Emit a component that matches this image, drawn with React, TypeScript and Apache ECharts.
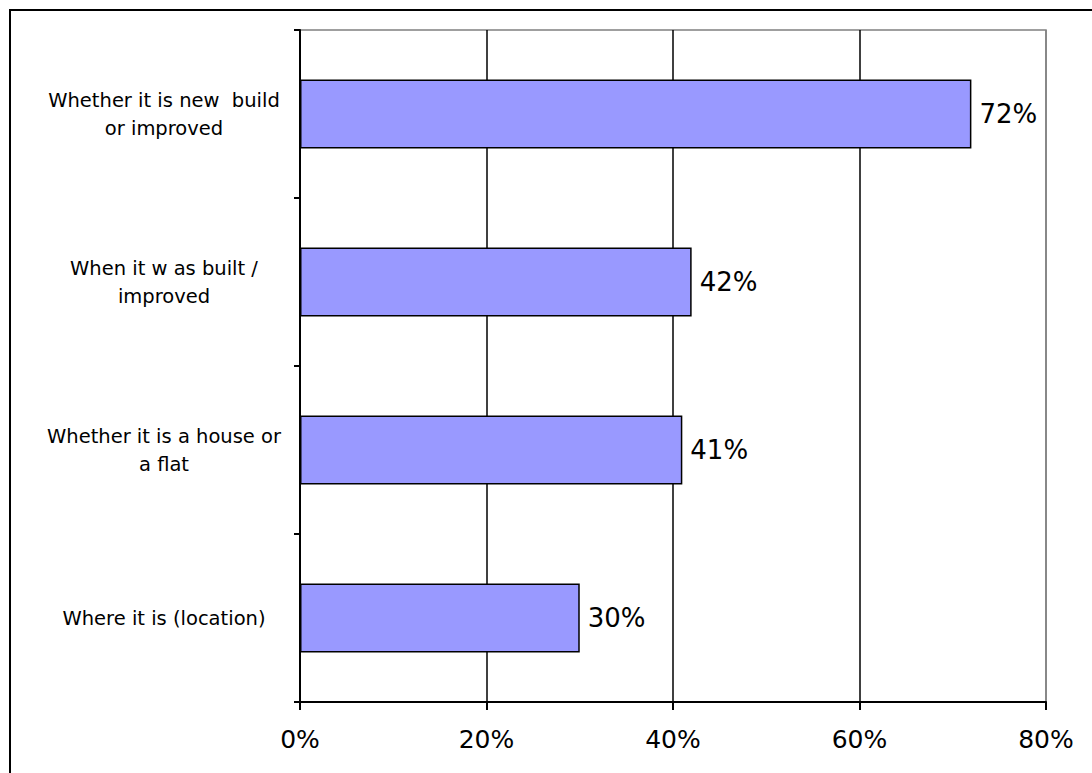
import React, { useEffect, useRef } from "react";
import * as echarts from "echarts";

const categories = [
  "Whether it is new  build\nor improved",
  "When it w as built /\nimproved",
  "Whether it is a house or\na flat",
  "Where it is (location)",
];
const values = [72, 42, 41, 30];
const xTicks = [0, 20, 40, 60, 80];

const FONT = "DejaVu Sans, Liberation Sans, Arial, sans-serif";

export default function App() {
  const ref = useRef<HTMLDivElement>(null);
  useEffect(() => {
    const chart = echarts.init(ref.current!, null, { renderer: "svg" });
    chart.setOption({
      animation: false,
      textStyle: { fontFamily: FONT },
      graphic: [
        {
          type: "rect",
          shape: { x: 10, y: 10, width: 1200, height: 900 },
          style: { fill: "none", stroke: "#000", lineWidth: 2 },
          silent: true,
        },
      ],
      grid: {
        left: 300,
        right: 46,
        top: 30,
        bottom: 71,
        show: true,
        borderColor: "#808080",
        borderWidth: 1.5,
        containLabel: false,
      },
      xAxis: {
        type: "value",
        min: xTicks[0],
        max: xTicks[xTicks.length - 1],
        interval: 20,
        axisLine: { show: true, lineStyle: { color: "#000", width: 2 } },
        axisTick: { show: true, length: 8, lineStyle: { color: "#000", width: 2 } },
        axisLabel: {
          formatter: (v: number) => v + "%",
          fontSize: 25,
          color: "#000",
          margin: 25,
          fontFamily: FONT,
        },
        splitLine: {
          show: true,
          lineStyle: { color: ["#000", "#000", "#000", "#000", "#808080"], width: 1.5 },
        },
      },
      yAxis: {
        type: "category",
        data: categories,
        inverse: true,
        axisLine: { show: true, lineStyle: { color: "#000", width: 2 } },
        axisTick: { show: true, length: 6, inside: false, lineStyle: { color: "#000", width: 2 } },
        axisLabel: {
          fontSize: 19.5,
          lineHeight: 28,
          color: "#000",
          align: "center",
          margin: 136,
          fontFamily: FONT,
        },
        splitLine: { show: false },
      },
      series: [
        {
          type: "bar",
          data: values,
          barCategoryGap: "59%",
          itemStyle: { color: "#9999FF", borderColor: "#000", borderWidth: 1.5 },
          label: {
            show: true,
            position: "right",
            distance: 8,
            formatter: (p: any) => p.value + "%",
            fontSize: 26,
            color: "#000",
            fontFamily: FONT,
          },
        },
      ],
    });
    return () => chart.dispose();
  }, []);
  return (
    <div
      ref={ref}
      style={{ position: "absolute", left: 0, top: 0, width: 1092, height: 773, background: "#fff" }}
    />
  );
}
